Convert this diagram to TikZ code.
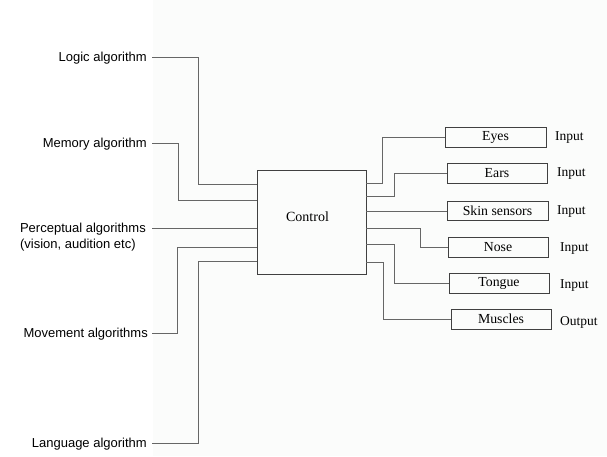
\documentclass[tikz,border=0pt]{standalone}
\usepackage{fontspec}
\newfontfamily\lsans{Liberation Sans}
\newfontfamily\lserif{Liberation Serif}
\begin{document}
\begin{tikzpicture}[x=1pt,y=-1pt,
 lab/.style={font=\lsans\fontsize{13}{15}\selectfont, inner sep=0pt, anchor=east},
 conn/.style={draw=black!60, line width=1pt},
 box/.style={draw=black!75, line width=0.9pt, font=\lserif\fontsize{13.8}{15}\selectfont, inner sep=0pt, minimum width=100pt, minimum height=20pt},
 io/.style={font=\lserif\fontsize{13.5}{15}\selectfont, inner sep=0pt, anchor=west}]
\useasboundingbox (0,0) rectangle (607,456);
\fill[white] (0,0) rectangle (607,456);
\fill[color={rgb,255:red,251;green,252;blue,251}] (153,0) rectangle (607,456);

% control box
\node[box, minimum width=109pt, minimum height=104pt,
  label={[font=\lserif\fontsize{14}{16}\selectfont, xshift=-4pt, yshift=5pt]center:Control}] (ctrl) at (311.5,222) {};

% left labels
\node[lab] (logic) at (147,58) {Logic algorithm};
\node[lab] (mem) at (147,144) {Memory algorithm};
\node[lab] (perc) at (146,229) {Perceptual algorithms};
\node[lab, anchor=west] (perc2) at ([yshift=-16pt]perc.west) {(vision, audition etc)};
\node[lab] (move) at (148,334) {Movement algorithms};
\node[lab] (lang) at (147,444) {Language algorithm};

% attachment points on control box
\coordinate (cl1) at (ctrl.west |- 0,184);
\coordinate (cl2) at (ctrl.west |- 0,200);
\coordinate (cl3) at (ctrl.west |- 0,228);
\coordinate (cl4) at (ctrl.west |- 0,247);
\coordinate (cl5) at (ctrl.west |- 0,261);
\coordinate (cr1) at (ctrl.east |- 0,183);
\coordinate (cr2) at (ctrl.east |- 0,196);
\coordinate (cr3) at (ctrl.east |- 0,211);
\coordinate (cr4) at (ctrl.east |- 0,228);
\coordinate (cr5) at (ctrl.east |- 0,244);
\coordinate (cr6) at (ctrl.east |- 0,262);

\draw[conn] ([xshift=5pt,yshift=1pt]logic.east) -- (198,57) |- (cl1);
\draw[conn] ([xshift=5pt,yshift=1pt]mem.east) -- (178,143) |- (cl2);
\draw[conn] ([xshift=6pt,yshift=1pt]perc.east) -- (cl3);
\draw[conn] ([xshift=4pt,yshift=1pt]move.east) -- (177,333) |- (cl4);
\draw[conn] ([xshift=5pt,yshift=1pt]lang.east) -- (198,443) |- (cl5);

% right boxes
\node[box, minimum width=101pt] (eyes) at (495.5,137) {Eyes};
\node[box] (ears) at (497,173) {Ears};
\node[box, minimum width=101pt, minimum height=19pt] (skin) at (497.5,210.5) {Skin sensors};
\node[box] (nose) at (498,247) {Nose};
\node[box] (tongue) at (499,283) {Tongue};
\node[box] (muscles) at (501,319) {Muscles};

\node[io] (i1) at (555,138) {Input};
\node[io] (i2) at (557,174) {Input};
\node[io] (i3) at (557,212) {Input};
\node[io] (i4) at (560,249) {Input};
\node[io] (i5) at (560,286) {Input};
\node[io] (o6) at (560,322) {Output};

\draw[conn] (cr1) -- (382,183) |- (eyes.west);
\draw[conn] (cr2) -- (394,196) |- (ears.west);
\draw[conn] (cr3) -- (skin.west |- cr3);
\draw[conn] (cr4) -- (420,228) |- (nose.west);
\draw[conn] (cr5) -- (394,244) |- (tongue.west);
\draw[conn] (cr6) -- (383,262) |- (muscles.west);
\end{tikzpicture}
\end{document}
